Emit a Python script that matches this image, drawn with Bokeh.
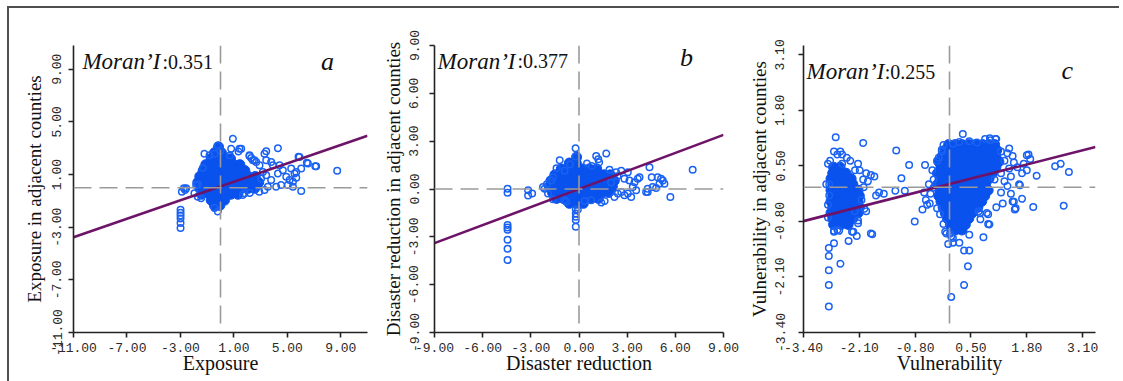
from bokeh.plotting import figure
from bokeh.layouts import row
from bokeh.models import Range1d, FixedTicker, PrintfTickFormatter, Span, Label, ColumnDataSource
from bokeh.embed import file_html
from bokeh.resources import INLINE

# ---------------- data: panel a (Exposure) ----------------
a_title = "a"
a_moran = 0.351
a_intercept = 0.09
a_xlabel = "Exposure"
a_ylabel = "Exposure in adjacent counties"
a_ticks = [-11, -7, -3, 1, 5, 9]
a_dense = [(-0.15, 3.1), (-0.45, 2.65), (0.07, 2.65), (-0.7, 2.2), (-0.19, 2.2), (0.33, 2.2), (0.75, 2.2),
           (-1.1, 1.75), (-0.58, 1.75), (-0.06, 1.75), (0.46, 1.75), (0.98, 1.75), (1.45, 1.75),
           (-1.3, 1.3), (-0.78, 1.3), (-0.26, 1.3), (0.26, 1.3), (0.78, 1.3), (1.3, 1.3), (1.82, 1.3),
           (-1.55, 0.85), (-1.04, 0.85), (-0.52, 0.85), (0.0, 0.85), (0.52, 0.85), (1.04, 0.85), (1.56, 0.85), (2.08, 0.85), (2.6, 0.85),
           (-1.7, 0.4), (-1.3, 0.4), (-0.78, 0.4), (-0.26, 0.4), (0.26, 0.4), (0.78, 0.4), (1.3, 0.4), (1.82, 0.4), (2.34, 0.4), (2.86, 0.4),
           (-1.55, -0.05), (-1.04, -0.05), (-0.52, -0.05), (0.0, -0.05), (0.52, -0.05), (1.04, -0.05), (1.56, -0.05), (2.08, -0.05), (2.55, -0.05),
           (-1.4, -0.5), (-0.78, -0.5), (-0.26, -0.5), (0.26, -0.5), (0.78, -0.5), (1.3, -0.5),
           (-0.7, -0.95), (-0.2, -0.95), (0.3, -0.95), (-0.45, -1.35), (-0.05, -1.35)]
a_rings = [(0.93, 3.71), (-0.2, 3.2), (0.0, 2.83), (-0.45, 2.58), (-0.82, 2.46), (-1.2, 2.58), (-1.32, 1.5),
           (-1.82, 0.2), (-2.57, -0.05), (-2.89, -0.3), (-2.64, -0.17), (-1.95, -0.43), (-2.74, -0.05), (-1.69, 0.25),
           (1.55, 2.95), (1.35, 2.75), (0.8, 2.95), (0.7, 2.45), (1.42, 2.96),
           (2.17, 2.46), (2.3, 2.26), (2.42, 2.08), (2.67, 1.95), (2.92, 1.7), (2.17, 2.4), (2.54, 2.08),
           (3.42, 2.76), (3.29, 2.58), (3.42, 2.08), (4.3, 3.0), (3.79, 1.95), (3.92, 1.7),
           (4.42, 1.7), (4.67, 1.33), (4.3, 1.08), (4.92, 0.83), (5.17, 0.58), (5.42, 0.45), (5.67, 0.75),
           (5.67, 1.2), (5.84, 2.35), (5.91, 2.33), (6.04, 1.45), (6.46, 1.9), (6.54, 1.83), (7.09, 1.63), (7.16, 1.63),
           (8.73, 1.28), (6.04, -0.25), (4.17, 0.08), (4.54, 0.2), (5.04, 0.2), (5.42, 0.08), (5.29, 1.45), (5.54, 1.08),
           (3.79, 0.58), (3.42, 0.95), (3.17, 1.2), (3.04, 0.7), (3.54, 0.08), (3.29, -0.18), (2.9, -0.3),
           (1.8, -0.43), (1.67, -0.55), (2.2, -0.4), (-0.2, -1.8), (-0.45, -1.55), (-1.44, -0.8), (-1.7, -0.68),
           (-2.99, -1.68), (-2.99, -1.9), (-2.99, -2.12), (-2.99, -2.35), (-2.99, -2.68), (-2.99, -3.06)]

# ---------------- data: panel b (Disaster reduction) ----------------
b_title = "b"
b_moran = 0.377
b_intercept = 0.0
b_xlabel = "Disaster reduction"
b_ylabel = "Disaster reduction in adjacent counties"
b_ticks = [-9, -6, -3, 0, 3, 6, 9]
b_dense = [(-0.15, 2.0), (-0.6, 1.63), (-0.17, 1.63),
           (-1.1, 1.26), (-0.65, 1.26), (-0.22, 1.26), (0.22, 1.26), (0.65, 1.26), (1.1, 1.26),
           (-1.5, 0.89), (-1.07, 0.89), (-0.63, 0.89), (-0.2, 0.89), (0.24, 0.89), (0.67, 0.89), (1.11, 0.89), (1.55, 0.89), (1.95, 0.89),
           (-1.75, 0.52), (-1.3, 0.52), (-0.85, 0.52), (-0.42, 0.52), (0.02, 0.52), (0.46, 0.52), (0.89, 0.52), (1.33, 0.52), (1.76, 0.52), (2.2, 0.52),
           (-1.85, 0.15), (-1.4, 0.15), (-0.97, 0.15), (-0.53, 0.15), (-0.1, 0.15), (0.34, 0.15), (0.77, 0.15), (1.21, 0.15), (1.64, 0.15), (2.08, 0.15),
           (-1.65, -0.22), (-1.2, -0.22), (-0.76, -0.22), (-0.33, -0.22), (0.11, -0.22), (0.54, -0.22), (0.98, -0.22), (1.41, -0.22), (1.85, -0.22),
           (-1.4, -0.59), (-0.97, -0.59), (-0.53, -0.59), (-0.1, -0.59), (0.34, -0.59), (0.77, -0.59), (1.21, -0.59),
           (-0.6, -0.9), (-0.17, -0.9), (0.27, -0.9)]
b_rings = [(-0.21, 2.55), (-0.21, 2.04), (1.7, 2.22), (1.07, 2.07), (1.2, 1.87), (1.26, 1.67), (-1.2, 1.81),
           (-0.56, 1.56), (-0.89, 1.15), (-1.62, 0.74), (-1.72, 0.53), (-2.24, 0.12), (-2.14, 0.02), (-1.93, -0.29),
           (-1.62, -0.64), (-0.79, -0.8), (0.76, -0.7), (1.39, -0.85), (2.21, -0.5), (2.42, -0.29), (2.63, -0.19),
           (2.32, 1.05), (2.63, 1.15), (3.04, 1.05), (2.83, 0.64), (3.14, 0.53), (3.46, 0.43), (3.66, 0.64),
           (3.35, 0.12), (3.56, -0.08), (3.04, -0.29), (2.83, -0.39), (3.25, -0.5), (3.77, 0.74), (4.39, 1.36),
           (4.53, 0.74), (4.9, 0.74), (5.11, 0.64), (5.32, 0.33), (5.01, 0.33), (5.22, 0.53), (4.28, 0.02),
           (4.18, -0.19), (4.59, 0.12), (4.8, 0.06), (5.69, -0.5), (7.08, 1.21),
           (-4.45, 0.02), (-4.45, -0.23), (-3.17, -0.08), (-2.92, -0.29), (-3.17, -0.4),
           (-4.45, -2.25), (-4.45, -2.41), (-4.45, -2.56), (-4.45, -3.18), (-4.45, -3.74), (-4.45, -4.45),
           (-0.2, -1.28), (-0.2, -1.53), (-0.2, -1.74), (-0.2, -1.95), (-0.2, -2.36), (-0.07, -1.3),
           (-0.9, -0.7), (0.35, -0.75), (4.28, -0.19), (1.9, 1.2), (2.0, 0.4), (0.5, 1.6), (0.8, 1.45),
           (-1.4, 1.3), (-2.0, 0.3), (1.6, -0.75), (2.4, 0.8)]

# ---------------- data: panel c (Vulnerability) ----------------
c_title = "c"
c_moran = 0.255
c_intercept = 0.075
c_xlabel = "Vulnerability"
c_ylabel = "Vulnerability in adjacent counties"
c_ticks = [-3.4, -2.1, -0.8, 0.5, 1.8, 3.1]
c_dense = [(-0.02, 1.0), (0.14, 1.0), (0.29, 1.0), (0.45, 1.0), (0.61, 1.0), (0.77, 1.0), (0.92, 1.0), (1.05, 1.0),
           (-0.1, 0.87), (0.06, 0.87), (0.21, 0.87), (0.37, 0.87), (0.53, 0.87), (0.69, 0.87), (0.84, 0.87), (1.0, 0.87), (1.1, 0.87),
           (-0.17, 0.73), (-0.02, 0.73), (0.14, 0.73), (0.29, 0.73), (0.45, 0.73), (0.61, 0.73), (0.77, 0.73), (0.92, 0.73), (1.08, 0.73),
           (-0.25, 0.6), (-0.1, 0.6), (0.06, 0.6), (0.21, 0.6), (0.37, 0.6), (0.53, 0.6), (0.69, 0.6), (0.84, 0.6), (1.0, 0.6), (1.15, 0.6),
           (-0.2, 0.47), (-0.02, 0.47), (0.14, 0.47), (0.29, 0.47), (0.45, 0.47), (0.61, 0.47), (0.77, 0.47), (0.92, 0.47), (1.08, 0.47),
           (-0.28, 0.33), (-0.1, 0.33), (0.06, 0.33), (0.21, 0.33), (0.37, 0.33), (0.53, 0.33), (0.69, 0.33), (0.84, 0.33), (1.0, 0.33),
           (-0.22, 0.2), (-0.02, 0.2), (0.14, 0.2), (0.29, 0.2), (0.45, 0.2), (0.61, 0.2), (0.77, 0.2), (0.92, 0.2),
           (-0.28, 0.07), (-0.1, 0.07), (0.06, 0.07), (0.21, 0.07), (0.37, 0.07), (0.53, 0.07), (0.69, 0.07), (0.84, 0.07),
           (-0.22, -0.07), (-0.02, -0.07), (0.14, -0.07), (0.29, -0.07), (0.45, -0.07), (0.61, -0.07), (0.77, -0.07), (0.9, -0.07),
           (-0.25, -0.2), (-0.1, -0.2), (0.06, -0.2), (0.21, -0.2), (0.37, -0.2), (0.53, -0.2), (0.69, -0.2), (0.82, -0.2),
           (-0.2, -0.33), (-0.02, -0.33), (0.14, -0.33), (0.29, -0.33), (0.45, -0.33), (0.61, -0.33), (0.75, -0.33),
           (-0.15, -0.47), (0.06, -0.47), (0.21, -0.47), (0.37, -0.47), (0.53, -0.47), (0.66, -0.47),
           (-0.1, -0.6), (0.06, -0.6), (0.21, -0.6), (0.37, -0.6), (0.53, -0.6),
           (-0.05, -0.73), (0.14, -0.73), (0.29, -0.73), (0.45, -0.73),
           (0.02, -0.87), (0.21, -0.87), (0.37, -0.87), (0.14, -1.0), (0.29, -1.0),
           (-2.7, 0.47), (-2.55, 0.47), (-2.72, 0.33), (-2.57, 0.33), (-2.41, 0.33),
           (-2.76, 0.2), (-2.6, 0.2), (-2.45, 0.2), (-2.29, 0.2), (-2.72, 0.07), (-2.57, 0.07), (-2.41, 0.07), (-2.25, 0.07),
           (-2.76, -0.07), (-2.6, -0.07), (-2.45, -0.07), (-2.29, -0.07), (-2.13, -0.07),
           (-2.72, -0.2), (-2.57, -0.2), (-2.41, -0.2), (-2.25, -0.2), (-2.1, -0.2),
           (-2.76, -0.33), (-2.6, -0.33), (-2.45, -0.33), (-2.29, -0.33), (-2.13, -0.33),
           (-2.72, -0.47), (-2.57, -0.47), (-2.41, -0.47), (-2.25, -0.47), (-2.1, -0.47),
           (-2.76, -0.6), (-2.6, -0.6), (-2.45, -0.6), (-2.29, -0.6), (-2.13, -0.6),
           (-2.72, -0.73), (-2.57, -0.73), (-2.41, -0.73), (-2.25, -0.73), (-2.7, -0.87), (-2.52, -0.87), (-2.36, -0.87)]
c_rings = [(-2.83, 0.55), (-2.8, 0.07), (-2.87, 0.07), (-2.69, 0.84), (-2.54, 0.84), (-2.5, 0.77), (-2.39, 0.69),
           (-2.31, 0.62), (-2.13, 0.55), (-2.09, 0.4), (-1.94, 0.33), (-1.83, 0.29), (-1.75, 0.25), (-1.9, 0.14),
           (-2.01, 0.18), (-2.65, 1.17), (-2.01, 1.04), (-1.71, -0.19), (-1.64, -0.12), (-1.53, -0.15), (-1.26, -0.08),
           (-1.04, -0.08), (-1.94, -0.56), (-2.2, -0.56), (-2.13, -0.78), (-2.24, -1.04), (-1.83, -1.08),
           (-2.61, -1.0), (-2.69, -1.04), (-2.83, -0.41), (-2.8, -0.19), (-2.83, -0.71), (-2.78, 0.62), (-2.61, 0.77),
           (-2.5, 0.55), (-2.2, 0.4), (-2.0, 0.0), (-2.05, -0.3), (-1.98, -0.5),
           (-2.69, -1.02), (-2.57, -1.02), (-2.35, -1.26), (-2.16, -1.14), (-1.8, -1.1), (-2.69, -1.31), (-2.81, -1.42),
           (-2.81, -1.61), (-2.54, -1.79), (-2.81, -1.94), (-2.81, -2.29), (-2.81, -2.79), (-2.27, -1.04), (-2.13, -0.84),
           (-0.81, -0.8), (-0.63, -0.52), (-0.1, -1.04), (0.01, -1.09), (0.08, -1.19), (-0.03, -1.33), (0.08, -1.3),
           (0.23, -1.3), (0.34, -1.48), (0.46, -1.48), (0.43, -1.85), (0.34, -2.29), (0.04, -2.57), (0.79, -1.17),
           (0.9, -0.86), (0.72, -0.75), (0.46, -1.11), (-0.46, -0.38), (-0.07, -1.08), (0.04, -1.15),
           (1.24, -0.38), (1.5, -0.34), (1.52, -0.52), (1.95, -0.46), (2.66, -0.43), (0.87, -0.6), (1.09, -0.47),
           (0.68, -0.56), (1.69, -0.27), (1.84, 0.77), (1.88, 0.66), (1.73, 0.55), (1.8, 0.4), (1.69, 0.33), (2.03, 0.27),
           (1.62, 0.07), (1.35, 0.03), (1.2, -0.12), (1.47, -0.33), (1.54, -0.49), (0.9, -0.63), (0.93, -0.87),
           (0.71, -0.61), (1.2, 0.84), (1.35, 0.8), (1.47, 0.73), (1.28, 0.62), (1.5, 0.58), (1.39, 0.44), (1.58, 0.47),
           (1.2, 0.33), (1.43, 0.25), (1.05, 0.18), (1.28, 0.14), (1.39, 0.91), (0.83, 1.13), (0.95, 1.1), (1.07, 1.13),
           (1.8, 0.75), (2.46, 0.49), (2.59, 0.55), (2.78, 0.36), (1.43, -0.15), (1.64, 0.05),
           (-1.24, 0.86), (-0.94, 0.52), (-0.57, 0.52), (-1.12, 0.21), (-0.55, -0.3), (-0.44, -0.15), (-0.37, 0.18),
           (-0.4, 0.4), (-0.29, 0.62), (-0.18, 0.84), (-0.14, 0.99), (-0.37, -0.01), (-0.48, 0.07), (-0.59, -0.12),
           (-0.52, -0.41), (-0.29, -0.49), (-0.22, -0.63), (-0.14, -0.86), (-0.25, 0.69), (-0.18, 0.88),
           (0.31, 1.25), (0.08, 1.02), (0.23, 1.06), (0.46, 1.08), (0.64, 1.05), (0.94, 1.15), (1.09, 1.13)]

# ---------------- styling ----------------
RING = "#1a62f2"
CORE = "#0a52ee"
REG = "#6e1468"
DASH = "#9a9a9a"
TXT = "#2a2a2a"
SERIF = "Liberation Serif"
MONO = "Liberation Mono"


def panel(title, moran, intercept, xlabel, ylabel, ticks, xlim, ylim, dense, rings,
          width, border, ystand, moran_pos, num_x, title_pos):
    p = figure(width=width, height=381, output_backend="svg", toolbar_location=None,
               x_range=Range1d(*xlim), y_range=Range1d(*ylim),
               min_border_left=border[0], min_border_right=border[1],
               min_border_top=border[2], min_border_bottom=border[3])
    p.outline_line_color = None
    p.xgrid.visible = False
    p.ygrid.visible = False
    p.background_fill_color = "white"
    p.border_fill_color = None
    for ax in (p.xaxis[0], p.yaxis[0]):
        ax.ticker = FixedTicker(ticks=ticks)
        ax.formatter = PrintfTickFormatter(format="%.2f")
        ax.axis_line_color = "#222222"
        ax.axis_line_width = 1.6
        ax.major_tick_line_color = "#222222"
        ax.major_tick_line_width = 1.6
        ax.major_tick_in = 0
        ax.major_tick_out = 5
        ax.minor_tick_line_color = None
        ax.major_label_text_font = MONO
        ax.major_label_text_font_size = "13px"
        ax.major_label_text_color = TXT
        ax.axis_label_text_font = SERIF
        ax.axis_label_text_font_style = "normal"
        ax.axis_label_text_color = "#111111"
    p.xaxis.major_label_standoff = 5
    p.xaxis.axis_label_standoff = -3
    p.xaxis.axis_label_text_font_size = "20px"
    p.xaxis.axis_label = xlabel
    p.yaxis.major_label_standoff = ystand[0]
    p.yaxis.axis_label_standoff = ystand[1]
    p.yaxis.axis_label_text_font_size = "19px"
    p.yaxis.axis_label = ylabel
    p.yaxis.major_label_orientation = "vertical"

    dsrc = ColumnDataSource(dict(x=[d[0] for d in dense], y=[d[1] for d in dense]))
    rsrc = ColumnDataSource(dict(x=[r[0] for r in rings], y=[r[1] for r in rings]))
    p.scatter("x", "y", source=dsrc, size=10, marker="circle", fill_color=CORE, line_color=CORE, line_width=1)
    p.scatter("x", "y", source=rsrc, size=6.5, marker="circle", fill_color=None, line_color=RING, line_width=1.5)

    p.add_layout(Span(location=0, dimension="width", line_color=DASH, line_width=1.6, line_dash="18 8"))
    p.add_layout(Span(location=0, dimension="height", line_color=DASH, line_width=1.6, line_dash="18 8"))

    xs = [xlim[0], xlim[1]]
    ys = [moran * v + intercept for v in xs]
    p.line(xs, ys, line_color=REG, line_width=2.6)

    p.add_layout(Label(x=moran_pos[0], y=moran_pos[1], text="Moran\u2019I", text_font=SERIF,
                       text_font_style="italic", text_font_size="23px", text_color="#111111",
                       text_baseline="alphabetic"))
    p.add_layout(Label(x=num_x, y=moran_pos[1], text=":%.3f" % moran, text_font=SERIF,
                       text_font_size="20px", text_color="#111111", text_baseline="alphabetic"))
    p.add_layout(Label(x=title_pos[0], y=title_pos[1], text=title, text_font=SERIF,
                       text_font_style="italic", text_font_size="26px", text_color="#111111",
                       text_align="center", text_baseline="alphabetic"))
    return p


pa = panel(a_title, a_moran, a_intercept, a_xlabel, a_ylabel, a_ticks, (-11, 11), (-11, 10.8),
           a_dense, a_rings, 375, (73, 8, 42, 46), (7, 5),
           (-10.33, 9.55), -4.34, (8.0, 9.6))
pb = panel(b_title, b_moran, b_intercept, b_xlabel, b_ylabel, b_ticks, (-9, 9), (-9, 9),
           b_dense, b_rings, 370, (59, 22, 45, 45), (11, 3),
           (-8.81, 8.01), -3.83, (6.69, 8.26))
pc = panel(c_title, c_moran, c_intercept, c_xlabel, c_ylabel, c_ticks, (-3.4, 3.4), (-3.4, 3.32),
           c_dense, c_rings, 378, (47, 28, 28, 49), (14, 3),
           (-3.33, 2.71), -1.51, (2.74, 2.73))

frame_bg = ("linear-gradient(#505050,#505050) 7px 6px / 1112px 2px no-repeat, "
            "linear-gradient(#505050,#505050) 7px 6px / 2px 380px no-repeat, white")
layout = row(pa, pb, pc, styles={"background": frame_bg})

open("out.html", "w").write(file_html(layout, INLINE))
